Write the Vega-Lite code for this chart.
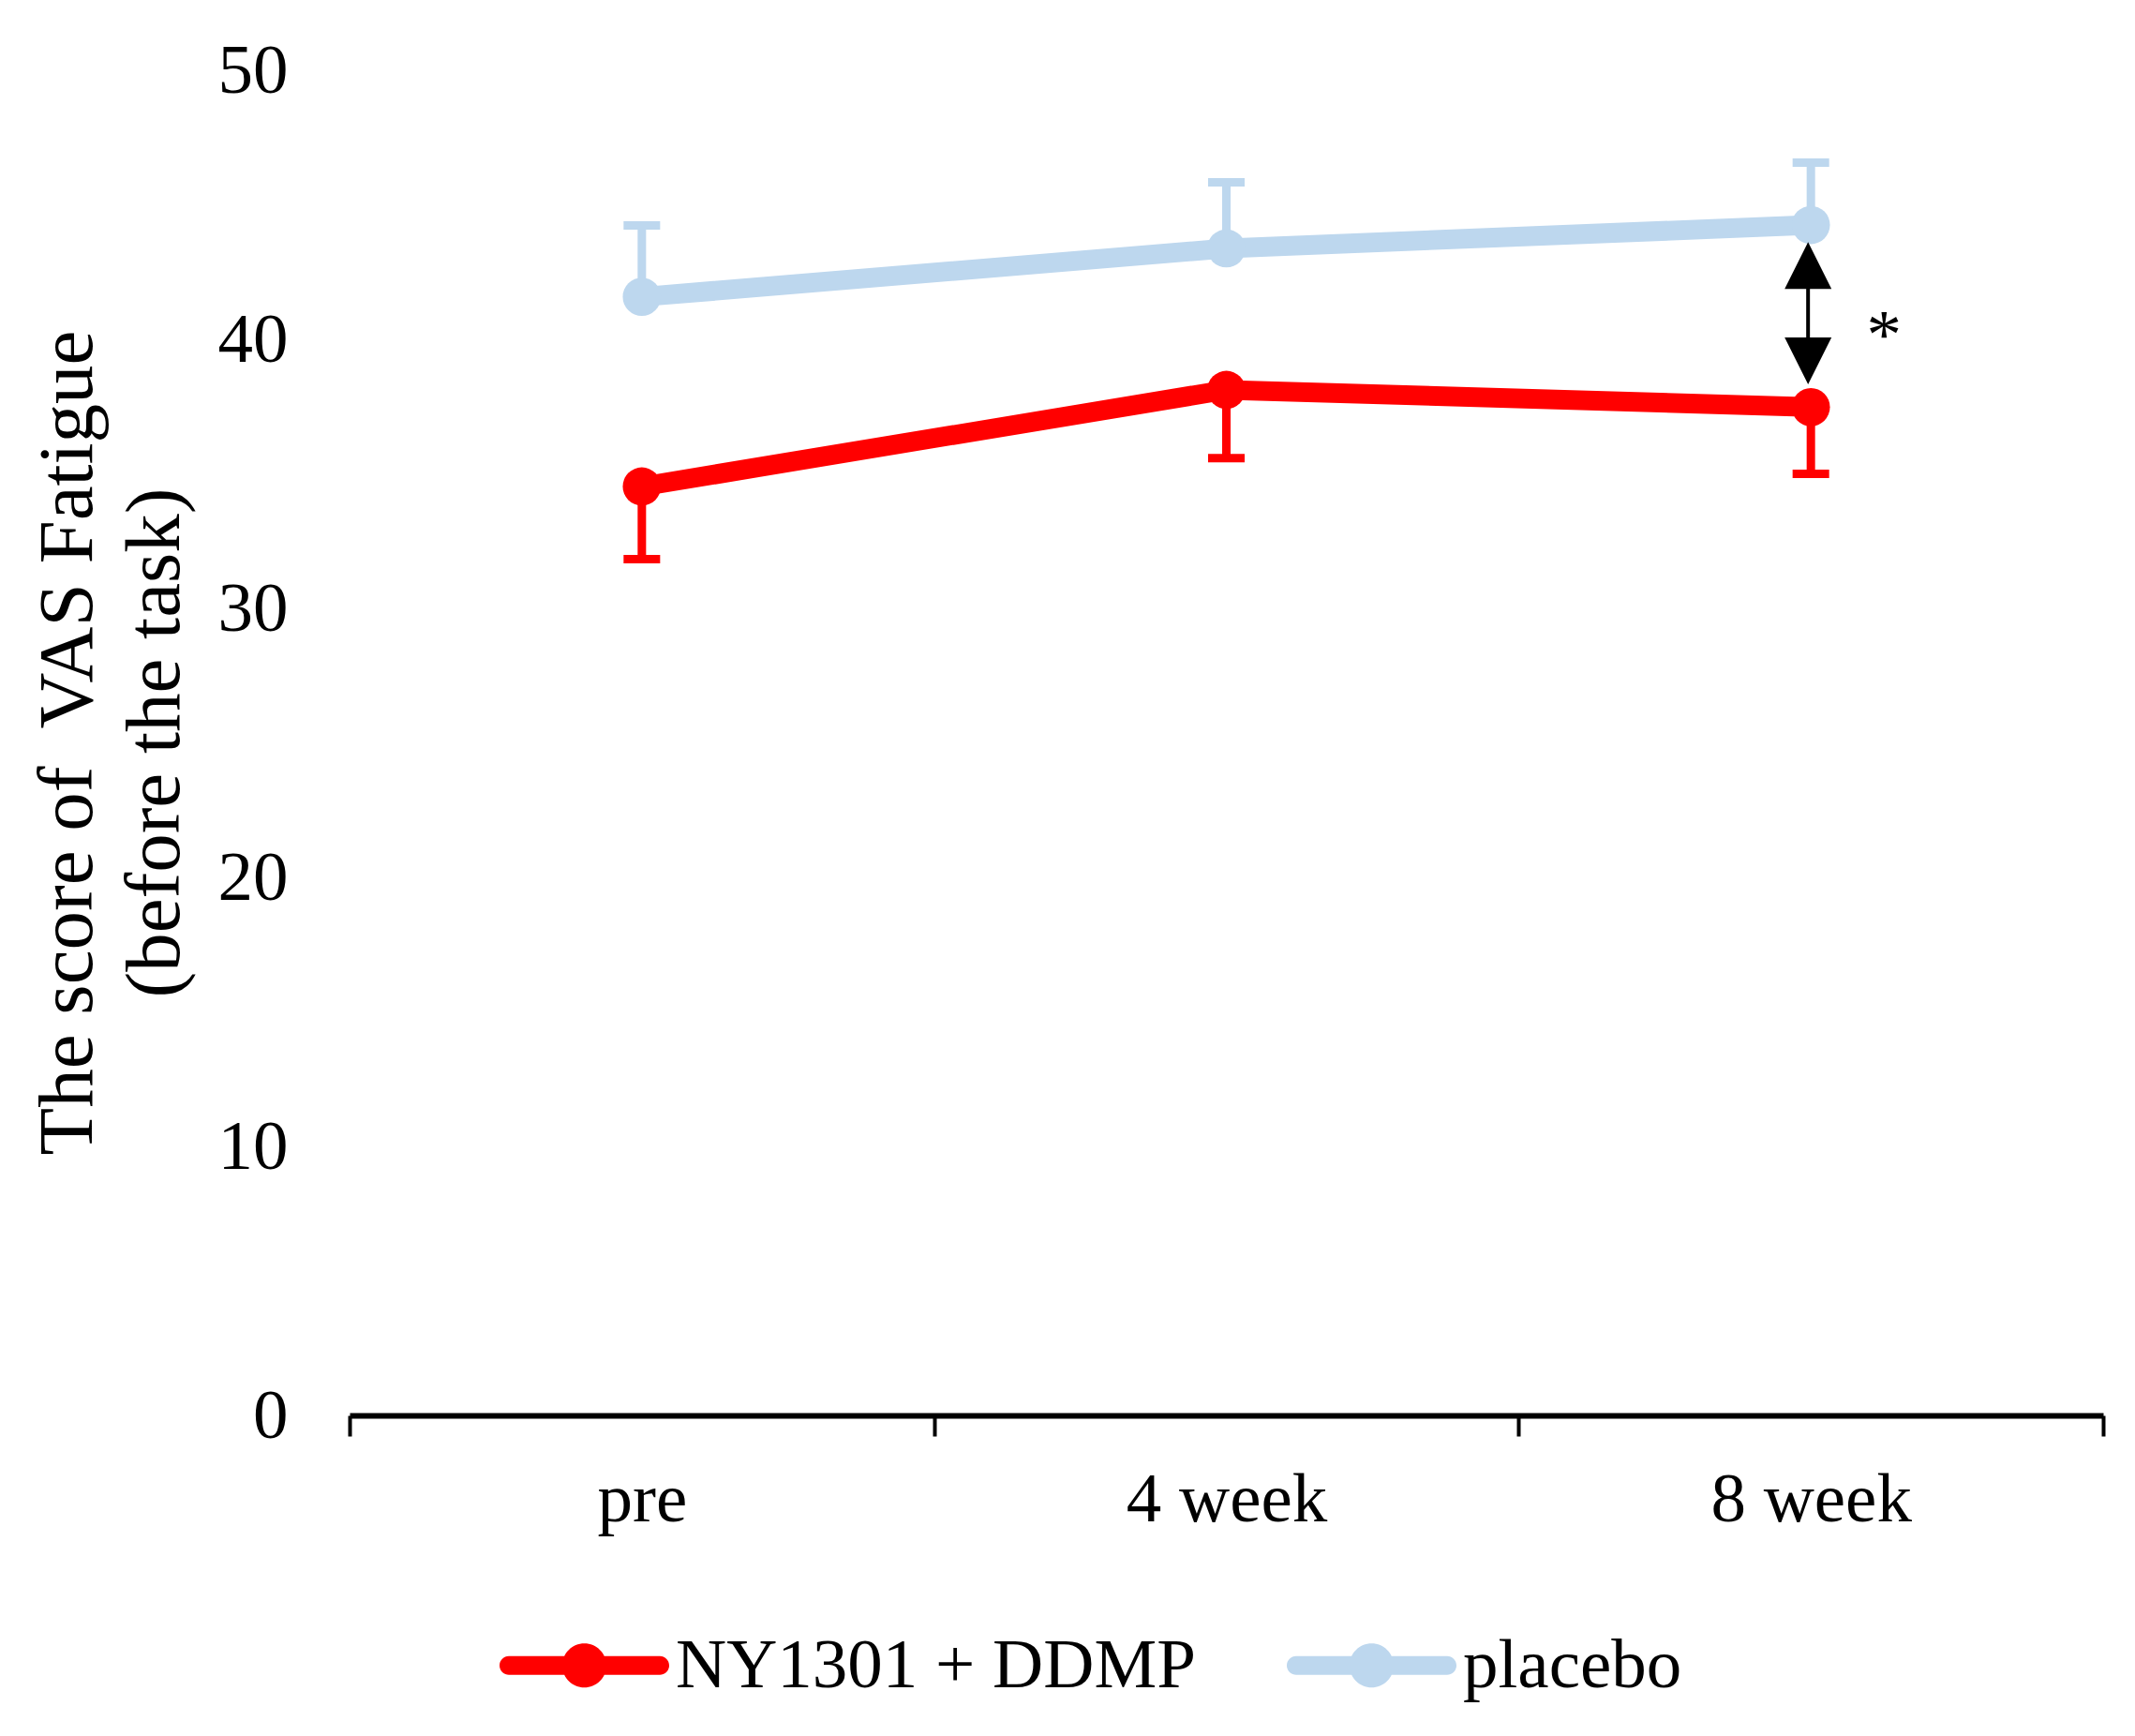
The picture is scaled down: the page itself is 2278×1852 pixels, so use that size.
{
  "$schema": "https://vega.github.io/schema/vega-lite/v6.json",
  "width": 1871,
  "height": 1435,
  "autosize": {"type": "none"},
  "padding": {"left": 373, "top": 75, "right": 34, "bottom": 342},
  "background": "white",
  "datasets": {
    "scores": [
      {"time": "pre", "group": "NY1301 + DDMP", "mean": 34.53, "err": 31.83},
      {"time": "4 week", "group": "NY1301 + DDMP", "mean": 38.12, "err": 35.58},
      {"time": "8 week", "group": "NY1301 + DDMP", "mean": 37.48, "err": 35.0},
      {"time": "pre", "group": "placebo", "mean": 41.58, "err": 44.23},
      {"time": "4 week", "group": "placebo", "mean": 43.38, "err": 45.84},
      {"time": "8 week", "group": "placebo", "mean": 44.25, "err": 46.57}
    ],
    "shaft": [{"time": "8 week", "top": 42.3, "bottom": 39.7}],
    "heads": [
      {"time": "8 week", "y": 42.74, "head": "up"},
      {"time": "8 week", "y": 39.2, "head": "down"}
    ],
    "stars": [{"time": "8 week", "y": 39.32, "label": "*"}]
  },
  "encoding": {
    "x": {
      "field": "time",
      "type": "nominal",
      "sort": ["pre", "4 week", "8 week"],
      "scale": {"type": "band", "paddingInner": 0, "paddingOuter": 0, "domain": ["pre", "4 week", "8 week"]},
      "axis": {
        "title": null,
        "labelAngle": 0,
        "labelFont": "Liberation Serif",
        "labelFontSize": 75,
        "labelColor": "black",
        "labelPadding": 31,
        "labelLimit": 1000,
        "domainColor": "black",
        "domainWidth": 6,
        "tickColor": "black",
        "tickWidth": 4,
        "tickSize": 22,
        "tickBand": "extent",
        "grid": false
      }
    }
  },
  "layer": [
    {
      "data": {"name": "scores"},
      "mark": {"type": "line", "strokeWidth": 21},
      "encoding": {
        "y": {"field": "mean", "type": "quantitative"},
        "color": {"field": "group", "type": "nominal", "legend": null}
      }
    },
    {
      "data": {"name": "scores"},
      "mark": {"type": "rule", "strokeWidth": 9},
      "encoding": {
        "y": {"field": "mean", "type": "quantitative"},
        "y2": {"field": "err"},
        "color": {"field": "group", "type": "nominal", "legend": null}
      }
    },
    {
      "data": {"name": "scores"},
      "mark": {"type": "tick", "size": 39, "thickness": 9, "opacity": 1},
      "encoding": {
        "y": {"field": "err", "type": "quantitative"},
        "color": {"field": "group", "type": "nominal", "legend": null}
      }
    },
    {
      "data": {"name": "scores"},
      "mark": {"type": "point", "shape": "circle", "filled": true, "opacity": 1, "size": 1660},
      "encoding": {
        "y": {
          "field": "mean",
          "type": "quantitative",
          "scale": {"domain": [0, 50], "nice": false},
          "axis": {
            "title": ["The score of\u00a0 VAS Fatigue", "(before the task)"],
            "titleFont": "Liberation Serif",
            "titleFontSize": 83,
            "titleFontWeight": "normal",
            "titleColor": "black",
            "titleLineHeight": 93,
            "titleBaseline": "alphabetic",
            "titleAlign": "center",
            "titleAngle": -90,
            "titleX": -276,
            "titleY": 717,
            "values": [0, 10, 20, 30, 40, 50],
            "labelFont": "Liberation Serif",
            "labelFontSize": 75,
            "labelColor": "black",
            "labelPadding": 66,
            "domain": false,
            "ticks": false,
            "tickSize": 0,
            "grid": false
          }
        },
        "color": {
          "field": "group",
          "type": "nominal",
          "scale": {"domain": ["NY1301 + DDMP", "placebo"], "range": ["#FF0000", "#BDD7EE"]},
          "legend": {
            "title": null,
            "orient": "none",
            "legendX": 160,
            "legendY": 1611,
            "direction": "horizontal",
            "columns": 2,
            "padding": 0,
            "columnPadding": 96,
            "symbolType": "M-0.89,-0.11H0.89A0.11,0.11 0 0,1 0.89,0.11H-0.89A0.11,0.11 0 0,1 -0.89,-0.11Z M-0.26,0A0.26,0.26 0 1,1 0.26,0A0.26,0.26 0 1,1 -0.26,0Z",
            "symbolSize": 32761,
            "symbolStrokeWidth": 0,
            "symbolOpacity": 1,
            "labelFont": "Liberation Serif",
            "labelFontSize": 75,
            "labelColor": "black",
            "labelOffset": 7,
            "labelLimit": 1000
          }
        }
      }
    },
    {
      "data": {"name": "shaft"},
      "mark": {"type": "rule", "color": "black", "strokeWidth": 4, "xOffset": -3},
      "encoding": {
        "y": {"field": "top", "type": "quantitative"},
        "y2": {"field": "bottom"}
      }
    },
    {
      "data": {"name": "heads"},
      "mark": {"type": "point", "filled": true, "opacity": 1, "color": "black", "size": 2500, "xOffset": -3},
      "encoding": {
        "y": {"field": "y", "type": "quantitative"},
        "shape": {
          "field": "head",
          "type": "nominal",
          "scale": {"domain": ["up", "down"], "range": ["M0,-1L1,1L-1,1Z", "M0,1L1,-1L-1,-1Z"]},
          "legend": null
        }
      }
    },
    {
      "data": {"name": "stars"},
      "mark": {"type": "text", "font": "Liberation Serif", "fontSize": 75, "color": "black", "baseline": "alphabetic", "align": "center", "dx": 78},
      "encoding": {
        "y": {"field": "y", "type": "quantitative"},
        "text": {"field": "label"}
      }
    }
  ],
  "resolve": {"legend": {"color": "independent"}},
  "config": {
    "view": {"stroke": null}
  }
}
